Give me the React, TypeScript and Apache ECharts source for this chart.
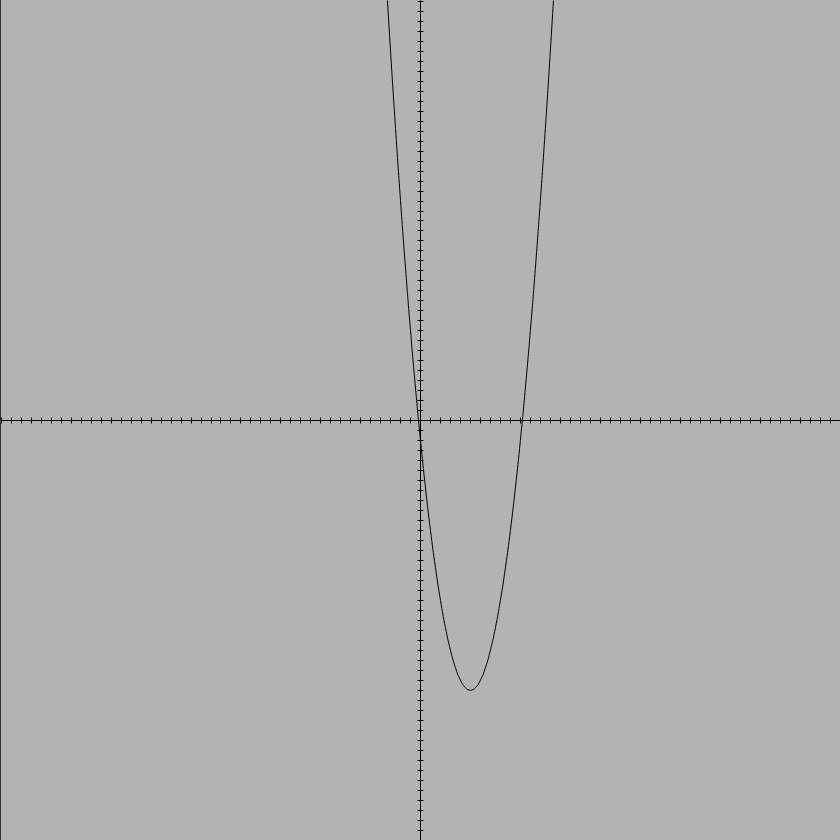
import React, { useEffect, useRef } from "react";
import * as echarts from "echarts";

const xValues = [
  -3.5, -3, -2.5, -2, -1.5, -1, -0.5, 0, 0.5, 1, 1.5, 2, 2.5, 3, 3.5, 4, 4.5, 5,
  5.5, 6, 6.5, 7, 7.5, 8, 8.5, 9, 9.5, 10, 10.5, 11, 11.5, 12, 12.5, 13, 13.5,
];
const yValues = [
  45.25, 37, 29.25, 22, 15.25, 9, 3.25, -2, -6.75, -11, -14.75, -18, -20.75, -23,
  -24.75, -26, -26.75, -27, -26.75, -26, -24.75, -23, -20.75, -18, -14.75, -11,
  -6.75, -2, 3.25, 9, 15.25, 22, 29.25, 37, 45.25,
];
const axisMin = -42;
const axisMax = 42;
const tickInterval = 1;

export default function App() {
  const ref = useRef<HTMLDivElement>(null);
  useEffect(() => {
    if (!ref.current) return;
    const chart = echarts.init(ref.current, undefined, { renderer: "svg" });
    const lineStyle = { color: "#000", width: 1 };
    const mkX = (position: "top" | "bottom") => ({
      type: "value" as const,
      position,
      min: axisMin,
      max: axisMax,
      interval: tickInterval,
      axisLine: { show: true, onZero: true, lineStyle },
      axisTick: { show: true, inside: false, length: 3, lineStyle },
      axisLabel: { show: false },
      splitLine: { show: false },
    });
    const mkY = (position: "left" | "right") => ({
      type: "value" as const,
      position,
      min: axisMin,
      max: axisMax,
      interval: tickInterval,
      axisLine: { show: true, onZero: true, lineStyle },
      axisTick: { show: true, inside: false, length: 3, lineStyle },
      axisLabel: { show: false },
      splitLine: { show: false },
    });
    chart.setOption({
      animation: false,
      backgroundColor: "#b3b3b3",
      grid: { left: 1, top: 1, width: 840, height: 840, containLabel: false },
      xAxis: [mkX("bottom"), mkX("top")],
      yAxis: [mkY("left"), mkY("right")],
      graphic: [
        {
          type: "rect",
          left: 0,
          top: 0,
          z: 100,
          shape: { x: 0, y: 0, width: 1, height: 840 },
          style: { fill: "#333333" },
        },
      ],
      series: [
        {
          type: "line",
          xAxisIndex: 0,
          yAxisIndex: 0,
          data: xValues.map((x, i) => [x, yValues[i]]),
          smooth: true,
          showSymbol: false,
          symbol: "none",
          lineStyle: { color: "#000", width: 1 },
          clip: true,
        },
      ],
    });
    return () => chart.dispose();
  }, []);
  return (
    <div
      ref={ref}
      style={{ position: "fixed", left: 0, top: 0, width: 840, height: 840 }}
    />
  );
}
